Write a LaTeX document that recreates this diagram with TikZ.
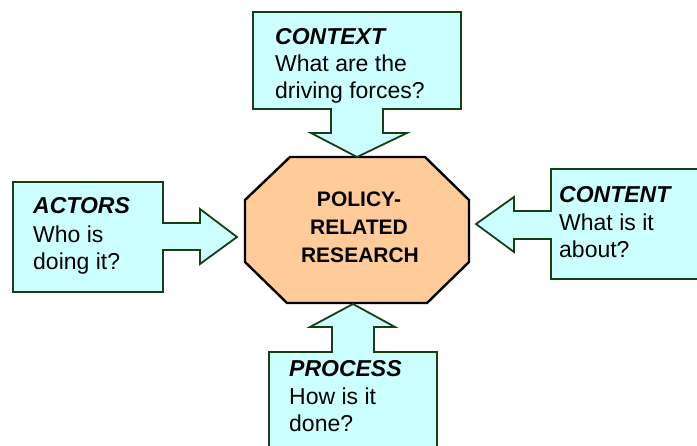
\documentclass[tikz,border=0pt]{standalone}
\usepackage{fontspec}
\setmainfont{Liberation Sans}
\definecolor{boxfill}{HTML}{CCFFFF}
\definecolor{boxline}{HTML}{163F16}
\definecolor{octfill}{HTML}{FFCC99}
\tikzset{
  callout/.style={fill=boxfill, draw=boxline, line width=1.8pt, line join=miter},
  octa/.style={fill=octfill, draw=black, line width=2.4pt, line join=miter},
  sidetxt/.style={anchor=base west, inner sep=0pt, font=\fontsize{23}{27}\selectfont},
  sidehead/.style={sidetxt, font=\fontsize{23}{27}\selectfont\bfseries\itshape},
  centtxt/.style={anchor=base, inner sep=0pt, font=\fontsize{21}{28}\selectfont\bfseries}
}
\begin{document}
\begin{tikzpicture}[x=1pt,y=-1pt]
\useasboundingbox (0,0) rectangle (697,446);
% octagon
\draw[octa] (290,157) -- (425,157) -- (469,200) -- (469,262) -- (427,303) -- (287,303) -- (245,262) -- (245,200) -- cycle;
% top callout (CONTEXT)
\draw[callout] (253,12) -- (461,12) -- (461,109) -- (383,109) -- (383,133) -- (407,133) -- (357,157)
  -- (311,133) -- (331,133) -- (331,109) -- (253,109) -- cycle;
% left callout (ACTORS)
\draw[callout] (13,182) -- (163,182) -- (163,223) -- (200,223) -- (200,209) -- (237,237)
  -- (200,264) -- (200,250) -- (163,250) -- (163,292) -- (13,292) -- cycle;
% right callout (CONTENT)
\draw[callout] (702,169) -- (551,169) -- (551,211) -- (514,211) -- (514,197) -- (476,224)
  -- (514,252) -- (514,239) -- (551,239) -- (551,279) -- (702,279);
% bottom callout (PROCESS)
\draw[callout] (269,452) -- (269,352) -- (332,352) -- (332,327) -- (310,327) -- (353,304)
  -- (395,327) -- (374,327) -- (374,352) -- (437,352) -- (437,452);
% texts
\node[centtxt] (c1) at (359,207) {POLICY-};
\node[centtxt] (c2) at (359,235) {RELATED};
\node[centtxt] (c3) at (360,263) {RESEARCH};
\node[sidehead] (t1) at (275,45) {CONTEXT};
\node[sidetxt] (t2) at (275,72) {What are the};
\node[sidetxt] (t3) at (275,99) {driving forces?};
\node[sidehead] (l1) at (33,214) {ACTORS};
\node[sidetxt] (l2) at (33,243) {Who is};
\node[sidetxt] (l3) at (33,270) {doing it?};
\node[sidehead] (r1) at (559,203) {CONTENT};
\node[sidetxt] (r2) at (559,231) {What is it};
\node[sidetxt] (r3) at (559,258) {about?};
\node[sidehead] (b1) at (289,377) {PROCESS};
\node[sidetxt] (b2) at (289,405) {How is it};
\node[sidetxt] (b3) at (289,432) {done?};
\end{tikzpicture}
\end{document}
